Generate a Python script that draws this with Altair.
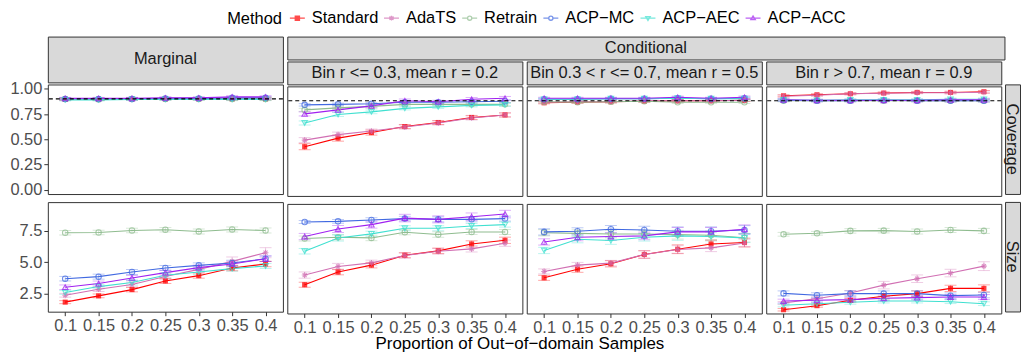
import altair as alt
import pandas as pd

FONT = "Liberation Sans"

methods = ["Standard", "AdaTS", "Retrain", "ACP−MC", "ACP−AEC", "ACP−ACC"]
colors = ["#FF0000", "#D16FB3", "#8FBC8F", "#4169E1", "#40E0D0", "#A020F0"]
props = ["0.1", "0.15", "0.2", "0.25", "0.3", "0.35", "0.4"]

panel_ids = ["marg", "low", "mid", "high"]
strip_labels = ["Bin r <= 0.3, mean r = 0.2", "Bin 0.3 < r <= 0.7, mean r = 0.5", "Bin r > 0.7, mean r = 0.9"]

# ---------------- Coverage values ----------------
cov_marg = {
    "Standard": [0.895, 0.895, 0.90, 0.90, 0.90, 0.90, 0.90],
    "AdaTS":    [0.90, 0.90, 0.90, 0.905, 0.905, 0.905, 0.91],
    "Retrain":  [0.90, 0.895, 0.90, 0.90, 0.90, 0.90, 0.90],
    "ACP−MC":   [0.90, 0.90, 0.90, 0.905, 0.905, 0.91, 0.91],
    "ACP−AEC":  [0.89, 0.89, 0.895, 0.895, 0.895, 0.895, 0.895],
    "ACP−ACC":  [0.905, 0.905, 0.905, 0.91, 0.91, 0.92, 0.92],
}
cov_low = {
    "Standard": [0.445, 0.53, 0.585, 0.645, 0.685, 0.735, 0.76],
    "AdaTS":    [0.51, 0.565, 0.60, 0.64, 0.68, 0.73, 0.76],
    "Retrain":  [0.81, 0.83, 0.845, 0.865, 0.865, 0.865, 0.865],
    "ACP−MC":   [0.86, 0.865, 0.87, 0.885, 0.885, 0.89, 0.895],
    "ACP−AEC":  [0.68, 0.765, 0.79, 0.825, 0.84, 0.855, 0.86],
    "ACP−ACC":  [0.77, 0.81, 0.85, 0.90, 0.89, 0.915, 0.925],
}
cov_mid = {
    "Standard": [0.88, 0.885, 0.89, 0.895, 0.90, 0.90, 0.905],
    "AdaTS":    [0.885, 0.89, 0.89, 0.90, 0.90, 0.90, 0.905],
    "Retrain":  [0.89, 0.885, 0.89, 0.895, 0.885, 0.885, 0.885],
    "ACP−MC":   [0.915, 0.915, 0.92, 0.92, 0.925, 0.92, 0.925],
    "ACP−AEC":  [0.915, 0.915, 0.92, 0.92, 0.925, 0.92, 0.92],
    "ACP−ACC":  [0.925, 0.925, 0.925, 0.925, 0.935, 0.925, 0.935],
}
cov_high = {
    "Standard": [0.95, 0.96, 0.97, 0.977, 0.983, 0.983, 0.99],
    "AdaTS":    [0.945, 0.955, 0.97, 0.975, 0.98, 0.98, 0.985],
    "Retrain":  [0.90, 0.90, 0.90, 0.90, 0.90, 0.90, 0.90],
    "ACP−MC":   [0.905, 0.90, 0.90, 0.905, 0.90, 0.90, 0.90],
    "ACP−AEC":  [0.91, 0.905, 0.91, 0.91, 0.91, 0.915, 0.915],
    "ACP−ACC":  [0.91, 0.905, 0.905, 0.905, 0.905, 0.91, 0.91],
}

# ---------------- Size values ----------------
size_marg = {
    "Standard": [1.83, 2.33, 2.83, 3.52, 3.94, 4.55, 4.87],
    "AdaTS":    [2.38, 2.86, 3.23, 3.87, 4.44, 5.08, 5.77],
    "Retrain":  [7.36, 7.38, 7.54, 7.60, 7.46, 7.62, 7.54],
    "ACP−MC":   [3.70, 3.86, 4.23, 4.55, 4.76, 4.95, 5.29],
    "ACP−AEC":  [2.60, 3.07, 3.39, 3.97, 4.23, 4.50, 4.71],
    "ACP−ACC":  [3.02, 3.31, 3.76, 4.18, 4.58, 4.87, 5.29],
}
size_low = {
    "Standard": [3.36, 4.37, 4.92, 5.71, 6.06, 6.61, 6.90],
    "AdaTS":    [4.13, 4.81, 5.10, 5.69, 6.03, 6.22, 6.67],
    "Retrain":  [7.04, 7.14, 7.09, 7.54, 7.36, 7.56, 7.56],
    "ACP−MC":   [8.36, 8.41, 8.52, 8.63, 8.57, 8.57, 8.63],
    "ACP−AEC":  [6.03, 7.09, 7.41, 7.86, 7.86, 8.04, 8.15],
    "ACP−ACC":  [7.20, 7.80, 8.15, 8.67, 8.57, 8.78, 8.99],
}
size_mid = {
    "Standard": [3.91, 4.60, 5.03, 5.77, 6.19, 6.61, 6.72],
    "AdaTS":    [4.42, 4.92, 5.08, 5.77, 6.17, 6.30, 6.69],
    "Retrain":  [7.50, 7.45, 7.40, 7.40, 7.35, 7.30, 7.10],
    "ACP−MC":   [7.57, 7.62, 7.78, 7.72, 7.62, 7.62, 7.72],
    "ACP−AEC":  [6.09, 6.98, 6.88, 7.14, 7.25, 7.20, 7.09],
    "ACP−ACC":  [6.77, 7.14, 7.20, 7.25, 7.57, 7.57, 7.78],
}
size_high = {
    "Standard": [1.37, 1.69, 2.12, 2.44, 2.65, 3.07, 3.07],
    "AdaTS":    [1.90, 2.25, 2.70, 3.33, 3.84, 4.29, 4.84],
    "Retrain":  [7.38, 7.46, 7.65, 7.67, 7.60, 7.72, 7.65],
    "ACP−MC":   [2.67, 2.52, 2.65, 2.65, 2.65, 2.49, 2.54],
    "ACP−AEC":  [1.72, 1.85, 1.96, 2.06, 2.06, 2.01, 1.85],
    "ACP−ACC":  [2.06, 2.12, 2.17, 2.28, 2.33, 2.38, 2.38],
}

# ---------------- Error bar half-widths ----------------
cov_err_marg = {m: [0.01, 0.01, 0.01, 0.01, 0.01, 0.012, 0.012] for m in methods}
cov_err_low = {
    "Standard": [0.03, 0.03, 0.025, 0.02, 0.02, 0.02, 0.02],
    "AdaTS":    [0.025, 0.025, 0.02, 0.02, 0.02, 0.02, 0.02],
    "Retrain":  [0.015, 0.015, 0.015, 0.015, 0.015, 0.015, 0.015],
    "ACP−MC":   [0.012, 0.012, 0.012, 0.012, 0.012, 0.012, 0.012],
    "ACP−AEC":  [0.02, 0.02, 0.018, 0.015, 0.015, 0.015, 0.015],
    "ACP−ACC":  [0.02, 0.02, 0.02, 0.018, 0.015, 0.018, 0.018],
}
cov_err_mid = {m: [0.01, 0.01, 0.01, 0.01, 0.012, 0.01, 0.012] for m in methods}
cov_err_high = {m: [0.01, 0.01, 0.01, 0.01, 0.01, 0.012, 0.012] for m in methods}

size_err_marg = {
    "Standard": [0.12, 0.15, 0.18, 0.2, 0.2, 0.22, 0.22],
    "AdaTS":    [0.15, 0.18, 0.2, 0.22, 0.25, 0.35, 0.4],
    "Retrain":  [0.18, 0.18, 0.18, 0.18, 0.2, 0.2, 0.2],
    "ACP−MC":   [0.18, 0.2, 0.2, 0.2, 0.2, 0.22, 0.22],
    "ACP−AEC":  [0.15, 0.18, 0.2, 0.2, 0.2, 0.2, 0.2],
    "ACP−ACC":  [0.18, 0.2, 0.2, 0.2, 0.2, 0.22, 0.22],
}
size_err_low = {
    "Standard": [0.2, 0.22, 0.22, 0.2, 0.22, 0.25, 0.25],
    "AdaTS":    [0.25, 0.25, 0.22, 0.2, 0.22, 0.25, 0.25],
    "Retrain":  [0.2, 0.2, 0.22, 0.2, 0.22, 0.2, 0.2],
    "ACP−MC":   [0.12, 0.15, 0.18, 0.18, 0.2, 0.2, 0.2],
    "ACP−AEC":  [0.22, 0.25, 0.22, 0.2, 0.2, 0.2, 0.2],
    "ACP−ACC":  [0.25, 0.28, 0.28, 0.3, 0.28, 0.3, 0.3],
}
size_err_mid = {
    "Standard": [0.2, 0.25, 0.25, 0.3, 0.35, 0.3, 0.35],
    "AdaTS":    [0.2, 0.22, 0.22, 0.3, 0.3, 0.3, 0.3],
    "Retrain":  [0.25, 0.28, 0.3, 0.3, 0.35, 0.35, 0.35],
    "ACP−MC":   [0.25, 0.28, 0.3, 0.3, 0.35, 0.35, 0.35],
    "ACP−AEC":  [0.25, 0.28, 0.3, 0.3, 0.35, 0.35, 0.35],
    "ACP−ACC":  [0.25, 0.28, 0.3, 0.3, 0.35, 0.35, 0.35],
}
size_err_high = {
    "Standard": [0.1, 0.12, 0.15, 0.2, 0.22, 0.25, 0.28],
    "AdaTS":    [0.12, 0.15, 0.2, 0.3, 0.3, 0.3, 0.35],
    "Retrain":  [0.15, 0.15, 0.18, 0.18, 0.2, 0.2, 0.2],
    "ACP−MC":   [0.2, 0.2, 0.22, 0.22, 0.22, 0.22, 0.22],
    "ACP−AEC":  [0.12, 0.12, 0.15, 0.15, 0.15, 0.15, 0.15],
    "ACP−ACC":  [0.15, 0.15, 0.15, 0.18, 0.18, 0.2, 0.2],
}

values = {
    ("marg", "cov"): (cov_marg, cov_err_marg), ("low", "cov"): (cov_low, cov_err_low),
    ("mid", "cov"): (cov_mid, cov_err_mid), ("high", "cov"): (cov_high, cov_err_high),
    ("marg", "size"): (size_marg, size_err_marg), ("low", "size"): (size_low, size_err_low),
    ("mid", "size"): (size_mid, size_err_mid), ("high", "size"): (size_high, size_err_high),
}

rows = []
for (pid, metric), (vals, errs) in values.items():
    for m in methods:
        for i, p in enumerate(props):
            v = vals[m][i]
            e = errs[m][i]
            rows.append({"panel": pid, "metric": metric, "method": m, "prop": p,
                         "value": v, "lo": v - e, "hi": v + e})
df = pd.DataFrame(rows)

# ---------------- styling ----------------
W = 236.0
H = 110.0
GAP = 6
STRIP_H = 23.0
TXT = 16.5
LABEL_OVER = 3.9   # how far the y-axis end labels of the Marginal coverage panel poke out
XLAB_OVER = 5.6    # combined overhang of the x tick labels of two neighbouring columns
STRIP_OVER = 4.5   # overhang between the last column and the right-hand strips

cscale = alt.Scale(domain=methods, range=colors)

point_shapes = {
    "Standard": ("square", True, 26),
    "AdaTS": ("M-1,0L1,0M0,-1L0,1M-0.7,-0.7L0.7,0.7M-0.7,0.7L0.7,-0.7", False, 34),
    "Retrain": ("circle", False, 30),
    "ACP−MC": ("circle", False, 30),
    "ACP−AEC": ("triangle-down", False, 30),
    "ACP−ACC": ("triangle-up", False, 30),
}
legend_paths = [
    "M-1,0L1,0M-0.28,-0.28L0.28,-0.28L0.28,0.28L-0.28,0.28ZM-0.12,-0.12L0.12,-0.12L0.12,0.12L-0.12,0.12Z",
    "M-1,0L1,0M0,-0.33L0,0.33M-0.28,-0.2L0.28,0.2M-0.28,0.2L0.28,-0.2",
    "M-1,0L-0.28,0M0.28,0L1,0M-0.28,0A0.28,0.28,0,1,0,0.28,0A0.28,0.28,0,1,0,-0.28,0",
    "M-1,0L-0.28,0M0.28,0L1,0M-0.28,0A0.28,0.28,0,1,0,0.28,0A0.28,0.28,0,1,0,-0.28,0",
    "M-1,0L1,0M-0.3,-0.2L0.3,-0.2L0,0.3Z",
    "M-1,0L1,0M-0.3,0.2L0.3,0.2L0,-0.3Z",
]

legend = alt.Legend(
    title="Method", orient="right", offset=0, direction="horizontal",
    titleOrient="left", titleFont=FONT, titleFontSize=16.5, titleFontWeight="normal",
    titleColor="black", titlePadding=6, labelFont=FONT, labelFontSize=16.5, labelColor="black",
    symbolSize=225, symbolStrokeWidth=1.3, labelOffset=6, columnPadding=2.5, padding=0,
    titleBaseline="middle", titleAnchor="middle",
)


def panel(pid, metric, show_y, show_x):
    d = df[(df.panel == pid) & (df.metric == metric)]
    base = alt.Chart(d)
    if show_x:
        xaxis = alt.Axis(labelFont=FONT, labelFontSize=TXT, labelColor="#4D4D4D", tickColor="#333333",
                         tickSize=4, labelPadding=2, domain=False, labelAngle=0, grid=False)
    else:
        xaxis = None
    x = alt.X("prop:N", sort=props, scale=alt.Scale(type="point", padding=0.52), axis=xaxis, title=None)
    if metric == "cov":
        ydom, yvals, fmt = [-0.043, 1.043], [0, 0.25, 0.5, 0.75, 1.0], ".2f"
    else:
        ydom, yvals, fmt = [1.07, 9.8], [2.5, 5.0, 7.5], ".1f"
    yscale = alt.Scale(domain=ydom, nice=False, zero=False)
    if show_y:
        yaxis = alt.Axis(values=yvals, format=fmt, labelFont=FONT, labelFontSize=TXT, labelColor="#4D4D4D",
                         tickColor="#333333", tickSize=4, labelPadding=2, domain=False, grid=False)
    else:
        yaxis = None
    color = alt.Color("method:N", scale=cscale, legend=None)

    layers = []
    layers.append(base.mark_rule(strokeWidth=1, opacity=0.35).encode(
        x=x, y=alt.Y("lo:Q", scale=yscale, axis=yaxis, title=None), y2="hi:Q", color=color))
    layers.append(base.mark_tick(orient="horizontal", size=12, thickness=1, opacity=0.35).encode(
        x=x, y=alt.Y("lo:Q", scale=yscale, axis=yaxis, title=None), color=color))
    layers.append(base.mark_tick(orient="horizontal", size=12, thickness=1, opacity=0.35).encode(
        x=x, y=alt.Y("hi:Q", scale=yscale, axis=yaxis, title=None), color=color))
    layers.append(base.mark_line(strokeWidth=1.1).encode(
        x=x, y=alt.Y("value:Q", scale=yscale, axis=yaxis, title=None), color=color, detail="method:N"))
    for m in methods:
        shp, filled, sz = point_shapes[m]
        layers.append(base.transform_filter(alt.datum.method == m).mark_point(
            shape=shp, filled=filled, size=sz, strokeWidth=1.1, opacity=0.75).encode(
            x=x, y=alt.Y("value:Q", scale=yscale, axis=yaxis, title=None), color=color))
    if metric == "cov":
        layers.append(alt.Chart(pd.DataFrame({"ref": [0.9]})).mark_rule(
            color="black", strokeDash=[4, 3], strokeWidth=1.1).encode(
            y=alt.Y("ref:Q", scale=yscale, axis=yaxis, title=None)))
    return alt.layer(*layers).properties(
        width=W, height=H, view=alt.ViewBackground(fill="white", stroke="#333333", strokeWidth=1))


def strip(label, w, h, angle=0, dx=0):
    return alt.Chart(pd.DataFrame({"label": [label]})).mark_text(
        font=FONT, fontSize=TXT, color="#1A1A1A", angle=angle, baseline="middle", align="center").encode(
        text="label:N", x=alt.value(w / 2 + dx), y=alt.value(h / 2)).properties(
        width=w, height=h, view=alt.ViewBackground(fill="#D9D9D9", stroke="#333333", strokeWidth=1))


def spacer(w, h):
    return alt.Chart(pd.DataFrame({"label": [""]})).mark_text(baseline="middle", fontSize=1).encode(
        text="label:N", x=alt.value(w / 2), y=alt.value(h / 2)).properties(
        width=w, height=h, view=alt.ViewBackground(fill="transparent", stroke="transparent"))


# legend row: an empty point layer whose color/shape scales carry the legend
legend_unit = alt.Chart(pd.DataFrame({"method": methods})).transform_filter("false").mark_point(
    filled=False).encode(
    color=alt.Color("method:N", scale=cscale, legend=legend),
    shape=alt.Shape("method:N", scale=alt.Scale(domain=methods, range=legend_paths), legend=legend),
).properties(width=1, height=18, view=alt.ViewBackground(fill="transparent", stroke="transparent"))
legend_row = alt.hconcat(spacer(176, 18), legend_unit, spacing=0)


def column(pid, first):
    cov = panel(pid, "cov", show_y=first, show_x=False)
    size = panel(pid, "size", show_y=first, show_x=True)
    return alt.vconcat(cov, size, spacing=GAP - (LABEL_OVER if first else 0))


marg_col = alt.vconcat(strip("Marginal", W, 2 * STRIP_H), column("marg", True), spacing=-LABEL_OVER)
cond_cols = alt.hconcat(
    *[alt.vconcat(strip(lbl, W, STRIP_H), column(pid, False), spacing=0)
      for pid, lbl in zip(panel_ids[1:], strip_labels)],
    spacing=GAP - XLAB_OVER)
cond = alt.vconcat(strip("Conditional", 3 * W + 2 * GAP, STRIP_H), cond_cols, spacing=0)
right = alt.vconcat(
    spacer(15, 2 * STRIP_H),
    alt.vconcat(strip("Coverage", 15, H, angle=90, dx=-1), strip("Size", 15, H, angle=90, dx=-1), spacing=GAP),
    spacing=0)

body = alt.hconcat(alt.hconcat(marg_col, cond, spacing=GAP - XLAB_OVER), right, spacing=1.5 - STRIP_OVER)

chart = alt.vconcat(legend_row, body, spacing=7).properties(
    padding={"left": 1, "right": 0, "top": 0, "bottom": 0},
    title=alt.TitleParams("Proportion of Out−of−domain Samples", orient="bottom", anchor="middle",
                          font=FONT, fontSize=17, fontWeight="normal", color="black", offset=0, dx=5),
).resolve_legend(color="independent", shape="independent")

chart.save("out.html", embed_options={"renderer": "svg", "actions": False})
